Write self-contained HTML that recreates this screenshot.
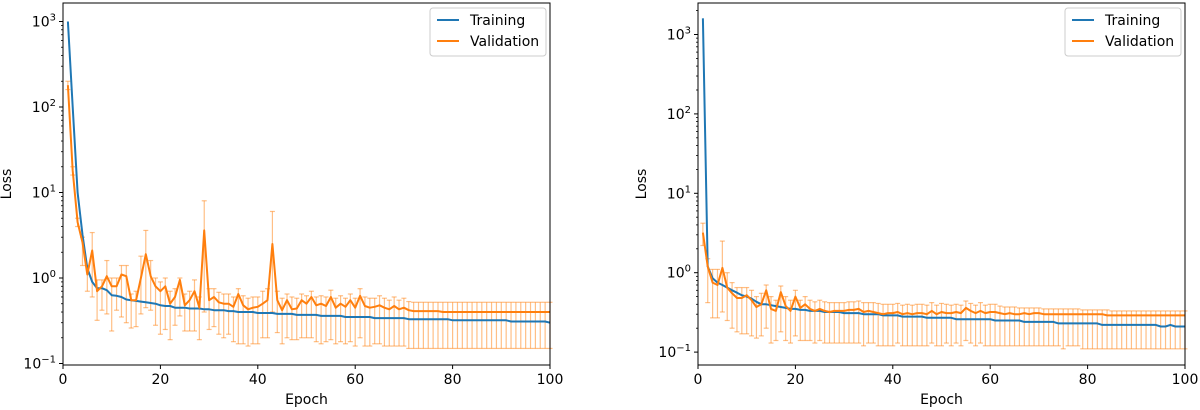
<!DOCTYPE html>
<html><head><meta charset="utf-8"><style>
body{margin:0;background:#fff;}
svg{display:block;font-family:"DejaVu Sans","Liberation Sans",sans-serif;}
</style></head><body>
<svg id="c" width="1200" height="410" xmlns="http://www.w3.org/2000/svg"></svg>
<script>
const epochs = Array.from({length:100},(_, i)=>i+1);
const trainL = [1000,100,10,3.2,1.3,0.9,0.76,0.76,0.72,0.63,0.62,0.6,0.56,0.55,0.54,0.53,0.52,0.51,0.5,0.48,
0.47,0.47,0.45,0.45,0.45,0.44,0.44,0.44,0.43,0.43,0.42,0.42,0.42,0.41,0.41,0.4,0.4,0.4,0.4,0.39,
0.39,0.39,0.39,0.38,0.38,0.38,0.38,0.37,0.37,0.37,0.37,0.37,0.36,0.36,0.36,0.36,0.36,0.35,0.35,0.35,
0.35,0.35,0.35,0.34,0.34,0.34,0.34,0.34,0.34,0.34,0.33,0.33,0.33,0.33,0.33,0.33,0.33,0.33,0.33,0.32,
0.32,0.32,0.32,0.32,0.32,0.32,0.32,0.32,0.32,0.32,0.32,0.31,0.31,0.31,0.31,0.31,0.31,0.31,0.31,0.3];
const valL = [180,18,4.5,2.6,1.1,2.1,0.7,0.8,1.05,0.8,0.8,1.1,1.05,0.55,0.55,1.0,1.9,1.05,0.8,0.7,
0.8,0.5,0.6,0.95,0.48,0.55,0.7,0.45,3.6,0.55,0.6,0.52,0.5,0.5,0.46,0.65,0.48,0.43,0.45,0.46,
0.5,0.55,2.5,0.55,0.42,0.55,0.43,0.44,0.55,0.5,0.6,0.48,0.5,0.47,0.6,0.45,0.5,0.46,0.55,0.45,
0.62,0.47,0.45,0.46,0.48,0.45,0.43,0.47,0.43,0.45,0.42,0.41,0.41,0.41,0.41,0.41,0.41,0.4,0.4,0.4,
0.4,0.4,0.4,0.4,0.4,0.4,0.4,0.4,0.4,0.4,0.4,0.4,0.4,0.4,0.4,0.4,0.4,0.4,0.4,0.4];
const hiL = [200,20,5,3,1.4,3.4,0.95,0.95,1.6,1.0,1.0,1.4,1.4,0.65,0.7,1.8,3.6,1.6,1.0,0.9,
1.0,0.7,0.75,1.0,0.65,0.7,0.95,0.6,8.0,0.75,0.75,0.68,0.65,0.65,0.6,0.75,0.62,0.58,0.6,0.6,
0.7,0.75,6.0,0.7,0.58,0.65,0.6,0.58,0.65,0.62,0.7,0.6,0.62,0.6,0.72,0.58,0.62,0.58,0.65,0.58,
0.75,0.6,0.58,0.58,0.62,0.58,0.55,0.6,0.55,0.58,0.53,0.52,0.52,0.52,0.52,0.52,0.52,0.52,0.52,0.52,
0.52,0.52,0.52,0.52,0.52,0.52,0.52,0.52,0.52,0.52,0.52,0.52,0.52,0.52,0.52,0.52,0.52,0.52,0.52,0.52];
const loL = [160,16,4,1.4,0.7,0.6,0.32,0.42,0.38,0.24,0.42,0.35,0.3,0.26,0.27,0.38,0.45,0.42,0.28,0.22,
0.25,0.19,0.28,0.36,0.24,0.24,0.24,0.19,0.4,0.25,0.27,0.22,0.2,0.22,0.18,0.17,0.17,0.16,0.17,0.17,
0.2,0.2,0.4,0.23,0.17,0.2,0.19,0.19,0.2,0.2,0.2,0.18,0.17,0.18,0.19,0.17,0.18,0.17,0.18,0.16,
0.2,0.16,0.16,0.17,0.17,0.16,0.16,0.16,0.16,0.16,0.15,0.15,0.15,0.15,0.15,0.15,0.15,0.15,0.15,0.15,
0.15,0.15,0.15,0.15,0.15,0.15,0.15,0.15,0.15,0.15,0.15,0.15,0.15,0.15,0.15,0.15,0.15,0.15,0.15,0.15];
const trainR = [1600,1.2,0.85,0.75,0.7,0.65,0.6,0.56,0.52,0.5,0.47,0.43,0.4,0.4,0.39,0.38,0.37,0.36,0.35,0.35,
0.34,0.34,0.33,0.33,0.33,0.32,0.32,0.32,0.32,0.31,0.31,0.31,0.31,0.3,0.3,0.3,0.3,0.29,0.29,0.29,
0.29,0.28,0.28,0.28,0.28,0.28,0.27,0.27,0.27,0.27,0.27,0.27,0.26,0.26,0.26,0.26,0.26,0.26,0.26,0.26,
0.25,0.25,0.25,0.25,0.25,0.25,0.24,0.24,0.24,0.24,0.24,0.24,0.24,0.23,0.23,0.23,0.23,0.23,0.23,0.23,
0.23,0.23,0.22,0.22,0.22,0.22,0.22,0.22,0.22,0.22,0.22,0.22,0.22,0.22,0.21,0.21,0.22,0.21,0.21,0.21];
const valR = [3.2,1.2,0.75,0.7,1.15,0.65,0.55,0.48,0.48,0.52,0.45,0.37,0.4,0.6,0.35,0.33,0.57,0.38,0.33,0.5,
0.36,0.4,0.35,0.33,0.35,0.33,0.32,0.33,0.33,0.33,0.34,0.34,0.35,0.32,0.33,0.32,0.31,0.3,0.31,0.31,
0.32,0.3,0.31,0.3,0.31,0.31,0.3,0.33,0.3,0.32,0.31,0.31,0.32,0.31,0.36,0.33,0.31,0.33,0.31,0.32,
0.32,0.31,0.3,0.31,0.3,0.3,0.31,0.3,0.31,0.31,0.3,0.3,0.3,0.3,0.3,0.3,0.3,0.3,0.3,0.3,
0.3,0.3,0.3,0.29,0.29,0.29,0.29,0.29,0.29,0.29,0.29,0.29,0.29,0.29,0.29,0.29,0.29,0.29,0.29,0.29];
const hiR = [4.2,1.5,1.1,1.1,2.5,1.0,0.75,0.65,0.65,0.65,0.6,0.5,0.55,0.7,0.5,0.45,0.68,0.5,0.45,0.6,
0.45,0.5,0.45,0.43,0.45,0.43,0.42,0.42,0.42,0.42,0.43,0.43,0.44,0.42,0.42,0.42,0.41,0.4,0.4,0.4,
0.41,0.39,0.4,0.39,0.4,0.4,0.39,0.42,0.39,0.41,0.4,0.39,0.4,0.39,0.44,0.41,0.39,0.42,0.39,0.4,
0.4,0.38,0.37,0.37,0.37,0.36,0.36,0.36,0.36,0.36,0.35,0.35,0.35,0.35,0.35,0.35,0.35,0.35,0.34,0.34,
0.34,0.34,0.34,0.34,0.33,0.33,0.33,0.33,0.33,0.33,0.33,0.33,0.33,0.33,0.33,0.33,0.33,0.33,0.33,0.33];
const loR = [2.2,0.42,0.27,0.27,0.32,0.25,0.2,0.18,0.17,0.17,0.16,0.15,0.16,0.2,0.13,0.14,0.18,0.14,0.13,0.16,
0.14,0.14,0.14,0.13,0.14,0.13,0.13,0.13,0.13,0.13,0.13,0.13,0.13,0.12,0.13,0.13,0.12,0.12,0.12,0.12,
0.13,0.12,0.12,0.12,0.12,0.12,0.12,0.13,0.12,0.12,0.13,0.12,0.13,0.12,0.14,0.13,0.12,0.13,0.12,0.12,
0.12,0.12,0.12,0.12,0.12,0.12,0.12,0.12,0.12,0.12,0.12,0.12,0.12,0.12,0.11,0.12,0.12,0.12,0.11,0.11,
0.11,0.11,0.11,0.11,0.11,0.11,0.11,0.11,0.11,0.11,0.11,0.11,0.11,0.11,0.11,0.11,0.11,0.11,0.11,0.11];
const xTicks = [0,20,40,60,80,100];
const yDecades = [-1,0,1,2,3];

const NS="http://www.w3.org/2000/svg";
const svg=document.getElementById('c');
function mk(tag,attrs,parent){const e=document.createElementNS(NS,tag);for(const k in attrs)e.setAttribute(k,attrs[k]);(parent||svg).appendChild(e);return e;}

function drawPlot(cfg){
  const g=mk('g',{});
  
  
  const sx=v=>cfg.x0+(cfg.x1-cfg.x0)*v/100;
  const sy=v=>cfg.yZero-cfg.yDec*Math.log10(v);
  const clip=v=>Math.min(cfg.bottom,Math.max(cfg.top,v));
  const eg=mk('g',{stroke:'#ff7f0e','stroke-opacity':'0.5','stroke-width':'1.2'},g);
  
  
  for(let i=0;i<cfg.val.length;i++){
    const x=sx(epochs[i]);const yh=clip(sy(cfg.hi[i]));const yl=clip(sy(cfg.lo[i]));
    mk('line',{x1:x,x2:x,y1:yh,y2:yl},eg);
    mk('line',{x1:x-2.5,x2:x+2.5,y1:yh,y2:yh},eg);
    mk('line',{x1:x-2.5,x2:x+2.5,y1:yl,y2:yl},eg);
  }
  const pts=a=>a.map((v,i)=>sx(epochs[i]).toFixed(1)+','+clip(sy(v)).toFixed(1)).join(' ');
  const tl=mk('polyline',{points:pts(cfg.train),fill:'none',stroke:'#1f77b4','stroke-width':'2','stroke-linejoin':'round'},g);
  
  
  const vl=mk('polyline',{points:pts(cfg.val),fill:'none',stroke:'#ff7f0e','stroke-width':'2','stroke-linejoin':'round'},g);
  
  
  const fr=mk('rect',{x:cfg.x0,y:cfg.top,width:cfg.x1-cfg.x0,height:cfg.bottom-cfg.top,fill:'none',stroke:'#000','stroke-width':'1'},g);
  
  
  xTicks.forEach(t=>{
    const x=sx(t);
    mk('line',{x1:x,x2:x,y1:cfg.bottom,y2:cfg.bottom+4,stroke:'#000'},g);
    const tx=mk('text',{x:x,y:cfg.bottom+19,'text-anchor':'middle','font-size':'14'},g);
    tx.textContent=t;
    
    
  });
  yDecades.forEach(d=>{
    const y=cfg.yZero-cfg.yDec*d;
    mk('line',{x1:cfg.x0-4,x2:cfg.x0,y1:y,y2:y,stroke:'#000'},g);
    const tx=mk('text',{x:cfg.x0-7,y:y+5,'text-anchor':'end','font-size':'14'},g);
    
    
    tx.appendChild(document.createTextNode('10'));
    const sp=mk('tspan',{dy:'-6','font-size':'10'},tx);sp.textContent=d<0?'\u2212'+(-d):String(d);
    for(let m=2;m<=9;m++){
      const ym=cfg.yZero-cfg.yDec*(d+Math.log10(m));
      if(ym>cfg.top&&ym<cfg.bottom) mk('line',{x1:cfg.x0-2,x2:cfg.x0,y1:ym,y2:ym,stroke:'#000','stroke-width':'0.8'},g);
    }
  });
  const xl=mk('text',{x:(cfg.x0+cfg.x1)/2,y:404,'text-anchor':'middle','font-size':'14'},g);
  xl.textContent='Epoch';
  
  
  const yl=mk('text',{x:0,y:0,'text-anchor':'middle','font-size':'14',transform:`translate(${cfg.x0-52},${(cfg.top+cfg.bottom)/2}) rotate(-90)`},g);
  yl.textContent='Loss';
  
  
  const lg=mk('g',{},g);
  
  
  const lx=cfg.x1-120;
  mk('rect',{x:lx,y:cfg.top+5,width:116,height:48,rx:3,fill:'#fff',stroke:'#ccc','stroke-width':'1'},lg);
  [['Training','#1f77b4',20],['Validation','#ff7f0e',41]].forEach(([n,c,yy])=>{
    mk('line',{x1:lx+7,x2:lx+29,y1:yy,y2:yy,stroke:c,'stroke-width':'2'},lg);
    const t=mk('text',{x:lx+40,y:yy+5,'font-size':'14'},lg);t.textContent=n;
    
    
  });
}
drawPlot({name:'left-loss-chart',x0:63,x1:550,top:3,bottom:365,yZero:278,yDec:85.5,train:trainL,val:valL,hi:hiL,lo:loL});
drawPlot({name:'right-loss-chart',x0:698,x1:1185,top:3,bottom:365,yZero:272.7,yDec:79.4,train:trainR,val:valR,hi:hiR,lo:loR});
</script>
</body></html>
